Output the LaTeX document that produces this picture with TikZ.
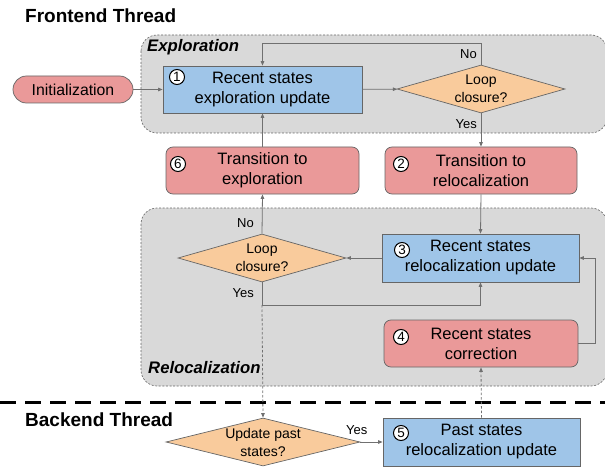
\documentclass[tikz,border=0pt]{standalone}
\usepackage{fontspec}
\setmainfont{Liberation Sans}
\usetikzlibrary{arrows.meta,shapes.geometric}
\definecolor{boxpink}{HTML}{EA9999}
\definecolor{boxblue}{HTML}{9FC5E8}
\definecolor{boxorange}{HTML}{F9CB9C}
\definecolor{regiongray}{HTML}{D9D9D9}
\definecolor{edgegray}{HTML}{666666}
\definecolor{linegray}{HTML}{707070}
\newcommand\bxfont{\fontsize{16.5}{20}\selectfont}
\newcommand\dcfont{\fontsize{14}{18}\selectfont}
\newcommand\lbfont{\fontsize{13}{15}\selectfont}
\begin{document}
\begin{tikzpicture}[x=1pt,y=-1pt,
  region/.style={draw=edgegray, fill=regiongray, dash pattern=on 2pt off 1.6pt,
    rounded corners=16pt, line width=0.6pt},
  bluebox/.style={draw=edgegray, fill=boxblue, line width=0.7pt, inner sep=0pt,
    align=center, font=\bxfont},
  pinkbox/.style={bluebox, fill=boxpink, rounded corners=7pt},
  decision/.style={diamond, draw=edgegray, fill=boxorange, line width=0.7pt,
    inner sep=0pt},
  dtext/.style={align=center, font=\dcfont, inner sep=0pt},
  num/.style={circle, draw=black, fill=white, line width=1pt, minimum size=15pt,
    inner sep=0pt, font=\fontsize{13.5}{13.5}\selectfont},
  flow/.style={draw=linegray, line width=0.8pt,
    -{Triangle[length=4.5pt,width=3.5pt]}},
  dflow/.style={flow, dash pattern=on 2.5pt off 2pt},
  lbl/.style={font=\lbfont, inner sep=0pt},
  thread/.style={font=\bfseries\fontsize{19}{22}\selectfont, anchor=west, inner sep=0pt},
  phase/.style={font=\bfseries\itshape\fontsize{16.7}{20}\selectfont, anchor=west, inner sep=0pt}
]
\useasboundingbox (0,0) rectangle (605,468);

% phase regions
\path[region] (141,35) rectangle (607,133);
\path[region] (141,208) rectangle (607,386);
\node[phase] (explab) at (147,47) {Exploration};
\node[phase] (rellab) at (148,368) {Relocalization};

% thread headings and separator
\node[thread] (front) at (25,16) {Frontend Thread};
\node[thread] (back) at (25,420) {Backend Thread};
\draw[line width=3pt, dash pattern=on 16pt off 9pt] (0,402) -- (605,402);

% process boxes
\node[pinkbox, rounded corners=13.5pt, minimum width=120pt, minimum height=27pt,
  font=\fontsize{15.8}{19}\selectfont] (init) at (73,89.5) {Initialization};
\node[bluebox, minimum width=199pt, minimum height=47pt] (b1) at (262.5,89.5)
  {Recent states\\exploration update};
\node[pinkbox, minimum width=193pt, minimum height=47pt] (b6) at (262.5,170.5)
  {Transition to\\exploration};
\node[pinkbox, minimum width=192pt, minimum height=47pt] (b2) at (481,170.5)
  {Transition to\\relocalization};
\node[bluebox, minimum width=197pt, minimum height=48pt] (b3) at (480.5,258)
  {Recent states\\relocalization update};
\node[pinkbox, minimum width=194pt, minimum height=47pt] (b4) at (481,343.5)
  {Recent states\\correction};
\node[bluebox, minimum width=197pt, minimum height=48pt] (b5) at (481.5,442)
  {Past states\\relocalization update};

% decisions
\node[decision, minimum width=168pt, minimum height=48pt] (d1) at (481,89) {};
\node[dtext] (d1t) at (d1.center) {Loop\\closure?};
\node[decision, minimum width=168pt, minimum height=48pt] (d2) at (262,258) {};
\node[dtext] (d2t) at (d2.center) {Loop\\closure?};
\node[decision, minimum width=194pt, minimum height=48pt] (d3) at (263,442) {};
\node[dtext] (d3t) at (d3.center) {Update past\\states?};

% step numbers
\node[num] (n1) at (177,77) {1};
\node[num] (n2) at (401,164) {2};
\node[num] (n3) at (402,250) {3};
\node[num] (n4) at (401,337) {4};
\node[num] (n5) at (401,433) {5};
\node[num] (n6) at (178,164) {6};

% connectors
\coordinate (loopback) at (481,43);
\coordinate (yesjoin) at (262,305);
\draw[flow] (init) -- (b1);
\draw[flow] (b1) -- (d1);
\draw[flow] (d1.north) -- (loopback) -| (b1.north);
\draw[flow] (d1.south) -- (b2.north);
\draw[flow] (b6.north) -- (b1.south);
\draw[flow] (b2.south) -- (b3.north);
\draw[flow] (b3.west) -- (d2.east);
\draw[flow] (d2.north) -- (b6.south);
\draw[flow] (d2.south) -- (yesjoin) -| (b3.south);
\draw[dflow] (yesjoin) -- (d3.north);
\draw[flow] (d3.east) -- (b5.west);
\draw[dflow] (b5.north) -- (b4.south);
\draw[flow] (b4.east) -- ++(17,0) |- (b3.east);

% branch labels
\node[lbl, anchor=east] (no1) at (477,54) {No};
\node[lbl, anchor=east] (yes1) at (477,124) {Yes};
\node[lbl, anchor=east] (no2) at (254,223) {No};
\node[lbl, anchor=east] (yes2) at (254,293) {Yes};
\node[lbl, anchor=west] (yes3) at (346,430) {Yes};
\end{tikzpicture}
\end{document}
